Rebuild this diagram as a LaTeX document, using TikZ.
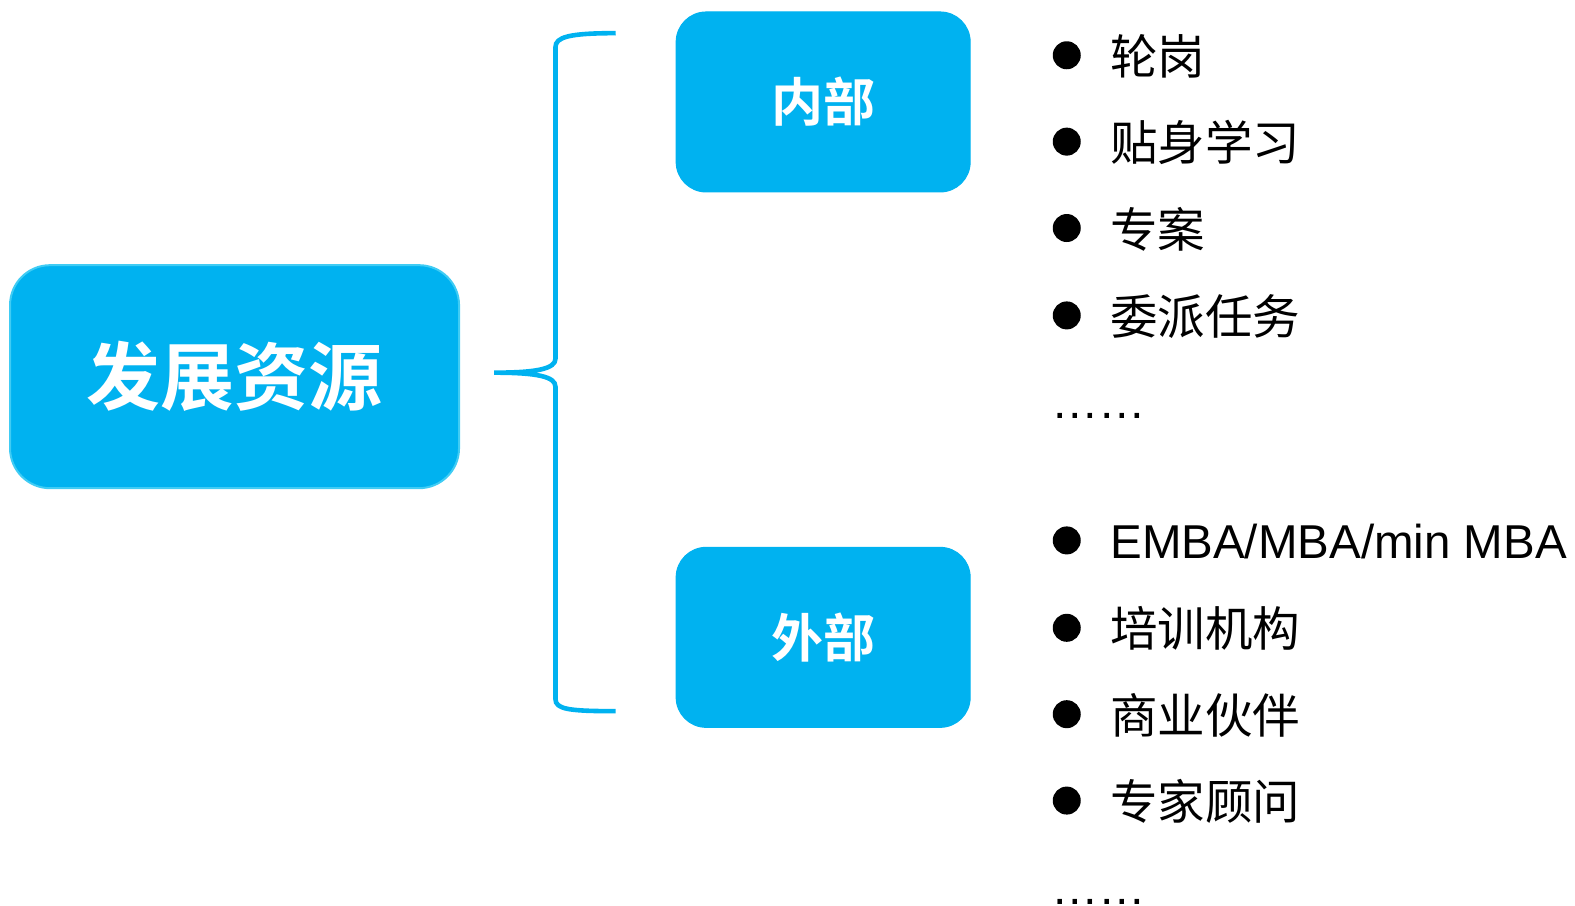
\documentclass[tikz,border=0pt]{standalone}
\usepackage{fontspec}
\setmainfont{Liberation Sans}
\newfontfamily\cjk{Noto Sans CJK SC}
\newfontfamily\cjkbf{Noto Sans CJK SC Bold}
\definecolor{mainblue}{HTML}{00B2F0}
\definecolor{edgeblue}{HTML}{40CCF4}
\tikzset{
  bigbox/.style={fill=mainblue, draw=edgeblue, line width=1pt, rounded corners=20pt,
    minimum width=224.5pt, minimum height=111.5pt, inner sep=0pt, text=white,
    font=\cjkbf\fontsize{37pt}{40pt}\selectfont},
  subbox/.style={fill=mainblue, draw=mainblue, line width=0.5pt, rounded corners=15pt,
    minimum width=147pt, minimum height=90pt, inner sep=0pt, text=white,
    font=\cjkbf\fontsize{26pt}{30pt}\selectfont},
  bulletdot/.style={circle, fill=black, minimum size=14pt, inner sep=0pt},
  itemtext/.style={anchor=base west, inner sep=0pt, font=\cjk\fontsize{23.75pt}{28pt}\selectfont},
  latintext/.style={anchor=base west, inner sep=0pt, font=\fontsize{23.75pt}{28pt}\selectfont},
  bracestyle/.style={draw=mainblue, line width=2.3pt, line join=miter}
}
\begin{document}
\begin{tikzpicture}[x=0.50223pt,y=-0.50223pt]
\useasboundingbox (0,0) rectangle (1568,901);
% main boxes
\node[bigbox] (main) at (233.5,375) {发展资源};
\node[subbox] (inner) at (819.5,101.5) {内部};
\node[subbox] (outer) at (819.5,634.5) {外部};
% brace
\draw[bracestyle] (613,33) .. controls (566,33) and (553,37) .. (553,47)
  -- (553,357) .. controls (553,367) and (535,371) .. (492,371)
  .. controls (535,371) and (553,375) .. (553,385)
  -- (553,696) .. controls (553,706) and (566,708) .. (613,708);
% internal list
\node[bulletdot] (d1) at (1062,55) {};
\node[itemtext] (t1) at (1105,74) {轮岗};
\node[bulletdot] (d2) at (1062,141) {};
\node[itemtext] (t2) at (1105,160) {贴身学习};
\node[bulletdot] (d3) at (1062,227) {};
\node[itemtext] (t3) at (1105,246) {专案};
\node[bulletdot] (d4) at (1062,314) {};
\node[itemtext] (t4) at (1105,333) {委派任务};
\node[latintext] (e1) at (1046,417) {……};
% external list
\node[bulletdot] (d5) at (1062,538) {};
\node[latintext] (t5) at (1105,556) {EMBA/MBA/min MBA};
\node[bulletdot] (d6) at (1062,625) {};
\node[itemtext] (t6) at (1105,644) {培训机构};
\node[bulletdot] (d7) at (1062,711) {};
\node[itemtext] (t7) at (1105,730) {商业伙伴};
\node[bulletdot] (d8) at (1062,797) {};
\node[itemtext] (t8) at (1105,816) {专家顾问};
\node[latintext] (e2) at (1046,900) {……};
\end{tikzpicture}
\end{document}
